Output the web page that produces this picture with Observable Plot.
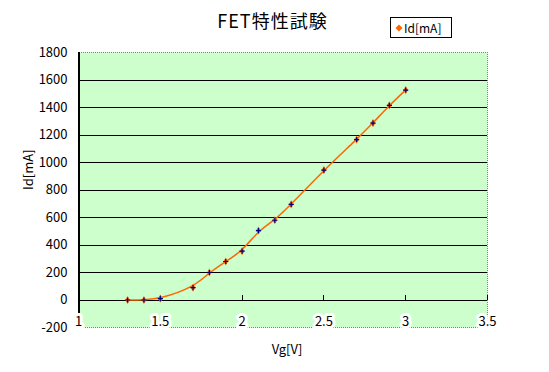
<!DOCTYPE html>
<html>
<head>
<meta charset="utf-8">
<script src="https://cdn.jsdelivr.net/npm/d3@7"></script>
<script src="https://cdn.jsdelivr.net/npm/@observablehq/plot@0.6"></script>
<style>
  html, body { margin: 0; padding: 0; background: #fff; }
  #wrap { position: relative; width: 549px; height: 372px; font-family: "Noto Sans CJK JP", "DejaVu Sans", sans-serif; }
  #title { position: absolute; left: 0; width: 549px; top: 7px; text-align: center; font-size: 18px; letter-spacing: 1px; }
  #title span { position: relative; left: -2px; }
  #legend { position: absolute; left: 390px; top: 17px; width: 60px; height: 19px; border: 1px solid #000; background: #fff; font-size: 12px; line-height: 19px; box-sizing: content-box; }
  #legend svg { position: absolute; left: 4px; top: 6px; }
  #legend .lt { position: absolute; left: 13px; top: 0px; }
</style>
</head>
<body>
<div id="wrap">
  <div id="chart"></div>
  <div id="title"><span>FET特性試験</span></div>
  <div id="legend"><svg width="8" height="8"><path d="M4 0.5 L7.5 4 L4 7.5 L0.5 4 Z" fill="#FF6600"/></svg><span class="lt">Id[mA]</span></div>
</div>
<script>
const vg = [1.3, 1.4, 1.5, 1.7, 1.8, 1.9, 2.0, 2.1, 2.2, 2.3, 2.5, 2.7, 2.8, 2.9, 3.0];
const id = [0, 0, 10, 90, 200, 280, 355, 505, 580, 695, 945, 1167, 1287, 1415, 1527];
const xTicks = [1, 1.5, 2, 2.5, 3, 3.5];
const xTickLabels = ["1", "1.5", "2", "2.5", "3", "3.5"];
const yTicks = [-200, 0, 200, 400, 600, 800, 1000, 1200, 1400, 1600, 1800];
const gridY = [0, 200, 400, 600, 800, 1000, 1200, 1400, 1600];

const data = vg.map((v, i) => ({vg: v, id: id[i]}));
const xt = xTicks.map((v, i) => ({x: v, label: xTickLabels[i]}));
const font = "'Noto Sans CJK JP', 'DejaVu Sans', sans-serif";

const chart = Plot.plot({
  width: 549,
  height: 372,
  marginLeft: 78,
  marginRight: 62,
  marginTop: 52,
  marginBottom: 45,
  style: {fontFamily: font, fontSize: "12px", background: "transparent", color: "#000"},
  x: {domain: [1, 3.5], axis: null},
  y: {domain: [-200, 1800], axis: null},
  marks: [
    Plot.frame({fill: "#CCFFCC"}),
    Plot.ruleY(gridY, {stroke: "#000", strokeWidth: 1, shapeRendering: "crispEdges"}),
    Plot.frame({stroke: "#808080", strokeDasharray: "1,1", shapeRendering: "crispEdges"}),
    Plot.ruleX([1], {stroke: "#000", strokeWidth: 2, shapeRendering: "crispEdges"}),
    Plot.ruleX(xTicks.slice(1), {y1: 0, y2: 30, stroke: "#000", strokeWidth: 1, shapeRendering: "crispEdges"}),
    Plot.axisY(yTicks, {tickSize: 0, tickPadding: 11, label: null, fontSize: 13, tickFormat: d => String(d)}),
    Plot.text(xt, {x: "x", y: -200, text: "label", dy: -6, fontSize: 13, stroke: "white", strokeWidth: 6, fill: "#000", paintOrder: "stroke"}),
    Plot.line(data, {x: "vg", y: "id", curve: "basis", stroke: "#FF6600", strokeWidth: 1.5}),
    Plot.dot(data, {x: "vg", y: "id", symbol: "diamond", r: 2.5, fill: "#FF6600", stroke: "none"}),
    Plot.dot(data, {x: "vg", y: "id", symbol: "plus", r: 1.8, stroke: "#000080", strokeWidth: 1.2}),
    Plot.text(["Vg[V]"], {frameAnchor: "bottom", dy: 26, dx: 4, fontSize: 13}),
    Plot.text(["Id[mA]"], {frameAnchor: "left", dx: -50, dy: 0, rotate: -90, fontSize: 13})
  ]
});
document.getElementById("chart").appendChild(chart);
</script>
</body>
</html>
